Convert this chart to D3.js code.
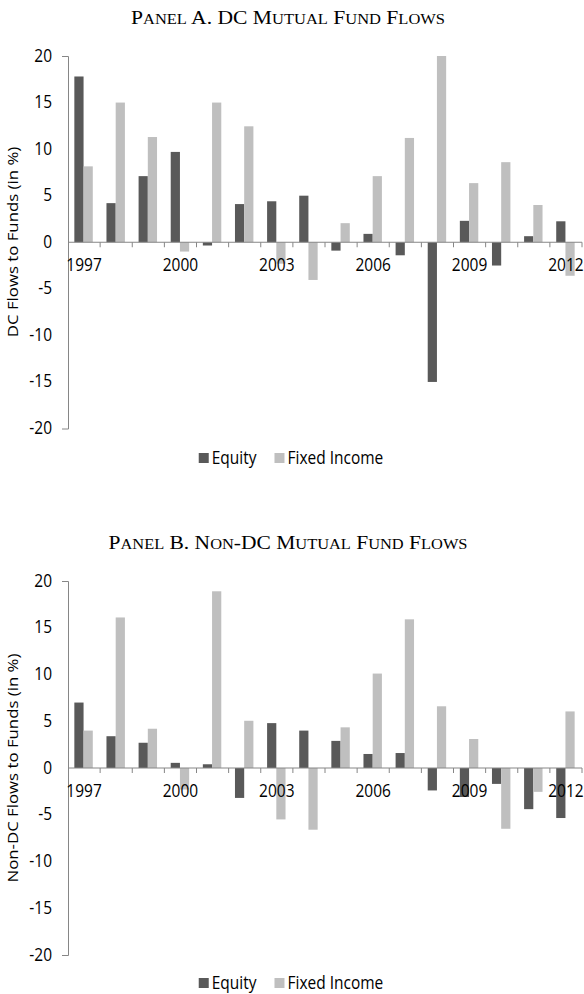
<!DOCTYPE html>
<html>
<head>
<meta charset="utf-8">
<script src="https://cdn.jsdelivr.net/npm/d3@7"></script>
<style>
  body { margin: 0; background: #fff; }
  text { font-family: "Open Sans", sans-serif; fill: #000; }
</style>
</head>
<body>
<svg width="584" height="994"></svg>
<script>
// categories
var years = [1997, 1998, 1999, 2000, 2001, 2002, 2003, 2004,
             2005, 2006, 2007, 2008, 2009, 2010, 2011, 2012];
var yearLabels = [1997, 2000, 2003, 2006, 2009, 2012];
var yTicks = [-20, -15, -10, -5, 0, 5, 10, 15, 20];
var seriesNames = ['Equity', 'Fixed Income'];

// Panel A: DC flows (%)
var dcEquity = [17.8, 4.2, 7.1, 9.7, -0.35, 4.1, 4.4, 5.0,
                -0.9, 0.9, -1.4, -15.0, 2.3, -2.5, 0.65, 2.25];
var dcFixed = [8.15, 15.0, 11.3, -1.0, 15.0, 12.45, -2.3, -4.05,
               2.05, 7.1, 11.2, 20.0, 6.35, 8.6, 4.0, -3.6];

// Panel B: non-DC flows (%)
var nonDcEquity = [7.0, 3.4, 2.7, 0.55, 0.4, -3.2, 4.8, 4.0,
                   2.9, 1.5, 1.6, -2.4, -3.1, -1.7, -4.4, -5.35];
var nonDcFixed = [4.0, 16.1, 4.2, -2.3, 18.9, 5.05, -5.5, -6.6,
                  4.35, 10.1, 15.9, 6.6, 3.1, -6.5, -2.55, 6.05];

var colors = ['#595959', '#bfbfbf'];
var axisColor = '#868686';
var stretch = 1.12;
var fontSize = 15.5;

var svg = d3.select('svg');

var x = d3.scaleBand().domain(years).range([68, 582]);
var barW = x.bandwidth() * 0.287;

var addText = function(g, str, px, py, anchor) {
  return g.append('text')
    .attr('transform', 'translate(' + px + ',' + py + ') scale(1,' + stretch + ')')
    .attr('text-anchor', anchor)
    .style('font-size', fontSize + 'px')
    .text(str);
};

// small caps by hand: capitals full size, lower case as smaller capitals
var smallCaps = function(t, str, big, small) {
  var runs = [];
  str.split('').forEach(function(ch) {
    var low = ch !== ch.toUpperCase();
    var last = runs[runs.length - 1];
    if (last && last.low === low) last.s += ch;
    else runs.push({ low: low, s: ch });
  });
  runs.forEach(function(r) {
    t.append('tspan')
      .style('font-size', (r.low ? small : big) + 'px')
      .text(r.low ? r.s.toUpperCase() : r.s);
  });
};

var drawPanel = function(p) {
  var g = svg.append('g');
  var y = d3.scaleLinear().domain([-20, 20]).range(p.range);
  var y0 = y(0);

  // title
  var title = g.append('text')
    .attr('x', 288).attr('y', p.titleY)
    .attr('text-anchor', 'middle')
    .attr('textLength', p.titleLen)
    .attr('lengthAdjust', 'spacingAndGlyphs')
    .style('font-family', '"Liberation Serif", "Times New Roman", serif');
  smallCaps(title, p.title, 19, 14.5);

  // bars
  [p.equity, p.fixed].forEach(function(vals, i) {
    g.selectAll('rect.s' + i)
      .data(vals)
      .enter()
      .append('rect')
      .attr('class', 's' + i)
      .attr('x', function(d, j) { return x(years[j]) + x.bandwidth() / 2 - barW + i * barW - 0.5; })
      .attr('y', function(d) { return Math.min(y(d), y0); })
      .attr('width', barW)
      .attr('height', function(d) { return Math.abs(y(d) - y0); })
      .attr('fill', colors[i]);
  });

  // y axis
  var yAxis = d3.axisLeft(y).tickValues(yTicks).tickSizeInner(0).tickSizeOuter(6);
  var ya = g.append('g').attr('transform', 'translate(68,0)').call(yAxis);
  ya.select('.domain').attr('stroke', axisColor);
  ya.selectAll('.tick text').remove();
  yTicks.forEach(function(t) {
    addText(g, t, 52, y(t) + 5.5, 'end');
  });

  // x axis at zero
  g.append('line')
    .attr('x1', 68).attr('x2', 582)
    .attr('y1', y0).attr('y2', y0)
    .attr('stroke', axisColor);
  g.selectAll('line.xt')
    .data(years)
    .enter()
    .append('line')
    .attr('class', 'xt')
    .attr('x1', function(d) { return x(d) + x.bandwidth(); })
    .attr('x2', function(d) { return x(d) + x.bandwidth(); })
    .attr('y1', y0).attr('y2', y0 + 5)
    .attr('stroke', axisColor);
  yearLabels.forEach(function(yr) {
    addText(g, yr, x(yr) + x.bandwidth() / 2, y0 + 29, 'middle');
  });

  // y axis title
  g.append('text')
    .attr('transform', 'translate(18,' + p.labelY + ') scale(1,' + stretch + ') rotate(-90)')
    .attr('text-anchor', 'middle')
    .style('font-size', '15px')
    .text(p.yLabel);

  // legend
  var lg = g.append('g');
  var cx = 0;
  seriesNames.forEach(function(name, i) {
    lg.append('rect')
      .attr('x', cx).attr('y', p.legendY - 5)
      .attr('width', 10).attr('height', 10)
      .attr('fill', colors[i]);
    var t = addText(lg, name, cx + 13, p.legendY + 5.5, 'start');
    cx += 13 + t.node().getComputedTextLength() + 18;
  });
  var w = cx - 18;
  lg.attr('transform', 'translate(' + (291 - w / 2) + ',0)');
};

drawPanel({
  title: 'Panel A. DC Mutual Fund Flows', titleY: 24, titleLen: 314,
  yLabel: 'DC Flows to Funds (in %)', labelY: 242,
  range: [428.5, 56], legendY: 458,
  equity: dcEquity, fixed: dcFixed
});
drawPanel({
  title: 'Panel B. Non-DC Mutual Fund Flows', titleY: 549, titleLen: 359,
  yLabel: 'Non-DC Flows to Funds (in %)', labelY: 768,
  range: [955, 581], legendY: 983,
  equity: nonDcEquity, fixed: nonDcFixed
});
</script>
</body>
</html>
